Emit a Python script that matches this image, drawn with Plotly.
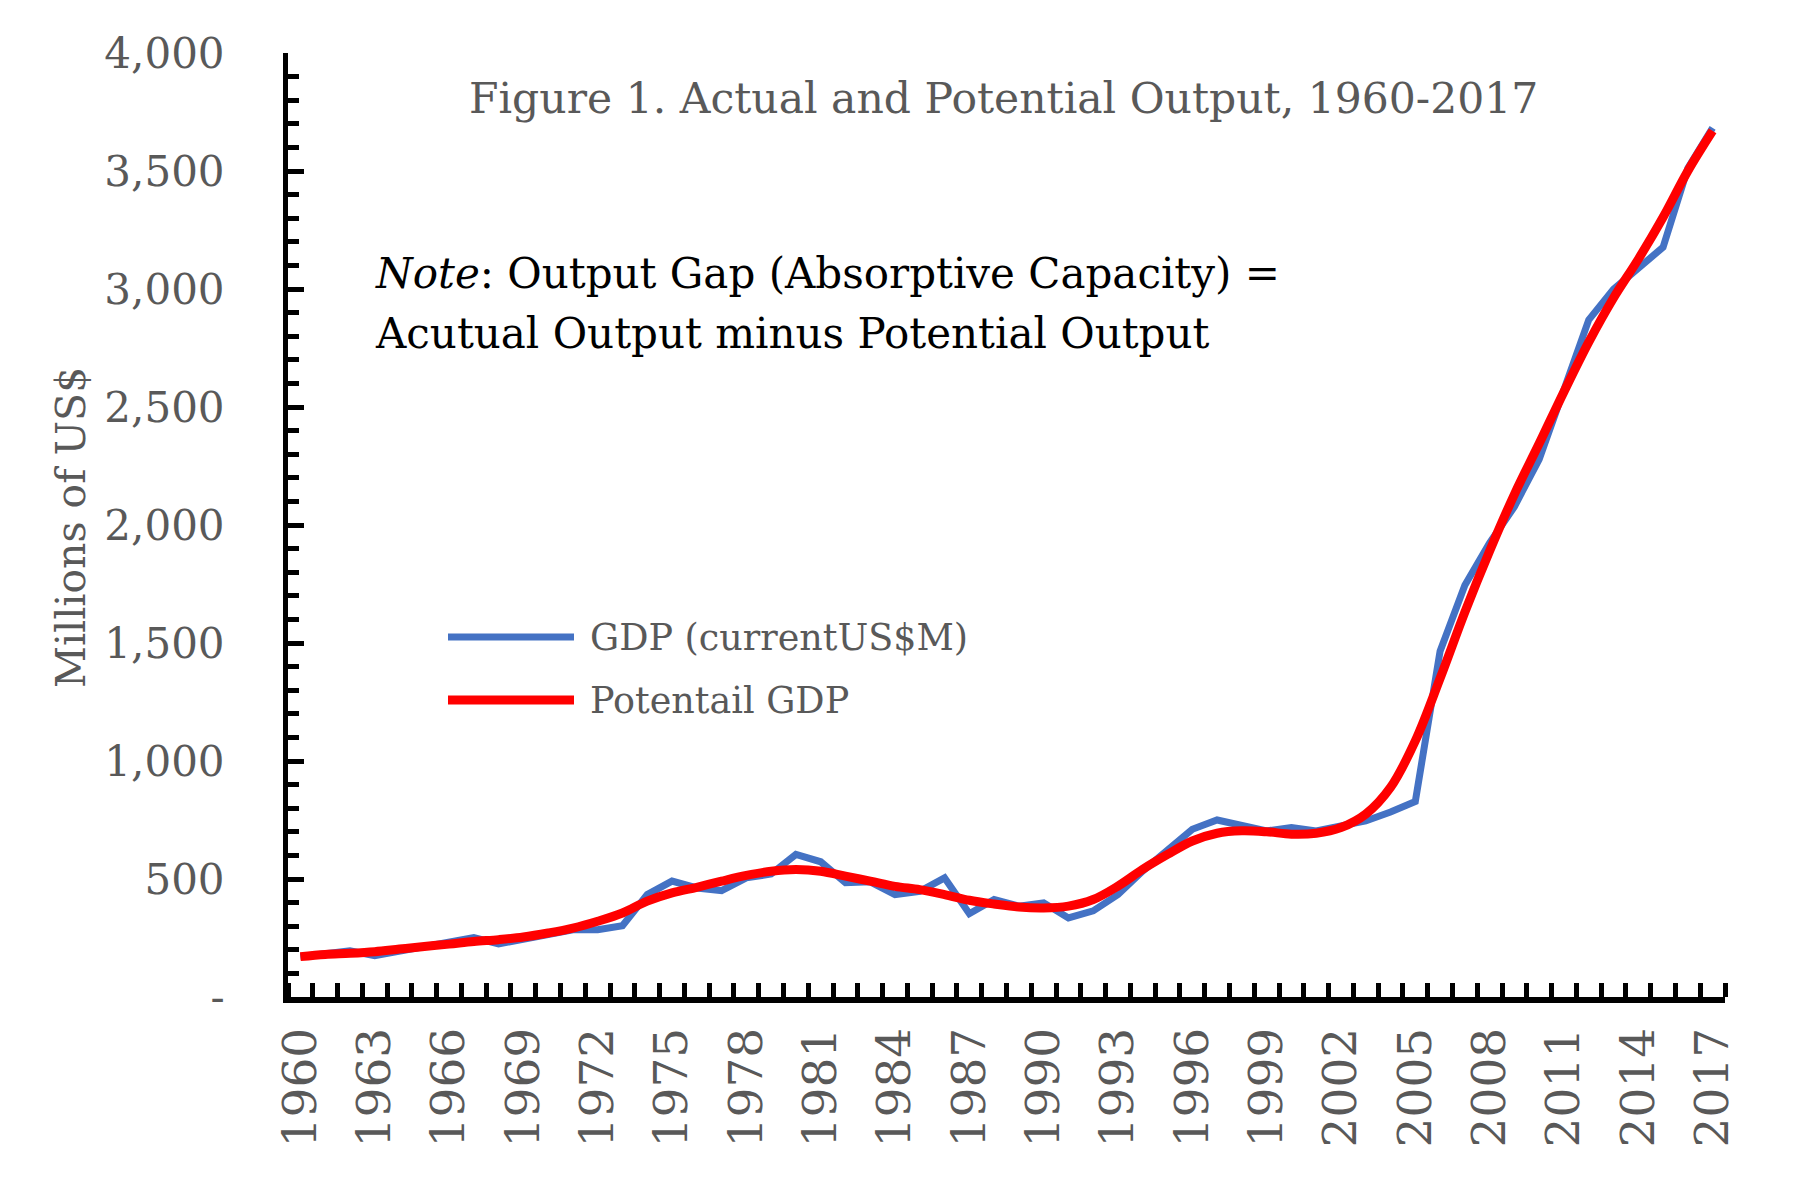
import plotly.graph_objects as go

years = list(range(1960, 2018))
gdp = [171, 186, 196, 175, 193, 214, 228, 252, 225, 245,
       267, 285, 285, 302, 434, 491, 462, 451, 505, 521,
       604, 573, 484, 488, 434, 448, 505, 353, 413, 385,
       399, 335, 365, 434, 534, 626, 711, 750, 725, 704,
       718, 704, 725, 746, 784, 828, 1465, 1745, 1924, 2078,
       2278, 2571, 2869, 2999, 3089, 3177, 3512, 3683]
potential = [171, 180, 185, 192, 203, 214, 224, 235, 243, 254,
             271, 292, 321, 356, 406, 441, 465, 491, 515, 533,
             540, 533, 512, 491, 469, 455, 434, 410, 394, 381,
             377, 385, 413, 470, 541, 604, 661, 694, 704, 700,
             690, 694, 718, 775, 888, 1085, 1350, 1631, 1890, 2130,
             2345, 2565, 2775, 2962, 3126, 3304, 3500, 3670]
series_names = ["GDP (currentUS$M)", "Potentail GDP"]
series_colors = ["#4472C4", "#FF0000"]
y_tickvals = [0, 500, 1000, 1500, 2000, 2500, 3000, 3500, 4000]
y_ticktext = ["-", "500", "1,000", "1,500", "2,000", "2,500", "3,000", "3,500", "4,000"]
x_tickvals = list(range(1960, 2018, 3))

title_text = "Figure 1. Actual and Potential Output, 1960-2017"
note_line1 = "<i>Note</i>: Output Gap (Absorptive Capacity) ="
note_line2 = "Acutual Output minus Potential Output"
y_title = "Millions of US$"

FONT = "DejaVu Serif"
GRAY = "#595959"

W, H = 1800, 1183
L, R, T, B = 288, 75, 53, 186
PW, PH = W - L - R, H - T - B

def px(x):
    return (x - L) / PW

def py(y):
    return (H - B - y) / PH

fig = go.Figure()
fig.add_trace(go.Scatter(x=years, y=gdp, mode="lines", name=series_names[0],
                         line=dict(color=series_colors[0], width=7), showlegend=False))
fig.add_trace(go.Scatter(x=years, y=potential, mode="lines", name=series_names[1],
                         line=dict(color=series_colors[1], width=9, shape="spline", smoothing=1.0),
                         showlegend=False))

fig.update_layout(
    width=W, height=H,
    margin=dict(l=L, r=R, t=T, b=B),
    paper_bgcolor="white", plot_bgcolor="white",
    font=dict(family=FONT, color=GRAY),
    xaxis=dict(
        range=[1959.5, 2017.5], tickvals=x_tickvals, ticktext=[str(v) for v in x_tickvals],
        tickangle=-90, tickfont=dict(size=47, color=GRAY, family=FONT),
        ticks="", showgrid=False, zeroline=False,
        showline=True, linecolor="black", linewidth=6,
        minor=dict(tick0=1959.5, dtick=1, ticks="inside", ticklen=14, tickwidth=5, tickcolor="black", showgrid=False),
        ticklabelstandoff=6,
    ),
    yaxis=dict(
        range=[0, 4000], tickvals=y_tickvals, ticktext=y_ticktext,
        tickfont=dict(size=42, color=GRAY, family=FONT),
        ticks="inside", ticklen=16, tickwidth=5, tickcolor="black",
        showgrid=False, zeroline=False,
        showline=True, linecolor="black", linewidth=5,
        minor=dict(dtick=100, tick0=0, ticks="inside", ticklen=11, tickwidth=5, tickcolor="black", showgrid=False),
        ticklabelstandoff=50,
    ),
)

annotations = [
    dict(text=title_text, x=px(1003), y=py(98), xref="paper", yref="paper",
         xanchor="center", yanchor="middle", showarrow=False,
         font=dict(size=42.5, color=GRAY, family=FONT)),
    dict(text=note_line1, x=px(373), y=py(273), xref="paper", yref="paper",
         xanchor="left", yanchor="middle", showarrow=False,
         font=dict(size=42, color="black", family=FONT)),
    dict(text=note_line2, x=px(373), y=py(333), xref="paper", yref="paper",
         xanchor="left", yanchor="middle", showarrow=False,
         font=dict(size=42, color="black", family=FONT)),
    dict(text=y_title, x=px(71), y=py(528), xref="paper", yref="paper",
         xanchor="center", yanchor="middle", showarrow=False, textangle=-90,
         font=dict(size=41, color=GRAY, family=FONT)),
]
shapes = []
legend_y = [637, 700]
for i, name in enumerate(series_names):
    shapes.append(dict(type="line", xref="paper", yref="paper",
                       x0=px(448), x1=px(574), y0=py(legend_y[i]), y1=py(legend_y[i]),
                       line=dict(color=series_colors[i], width=7 if i == 0 else 9)))
    annotations.append(dict(text=name, x=px(588), y=py(legend_y[i]), xref="paper", yref="paper",
                            xanchor="left", yanchor="middle", showarrow=False,
                            font=dict(size=36.5, color=GRAY, family=FONT)))
fig.update_layout(annotations=annotations, shapes=shapes)

fig.write_html("out.html")
